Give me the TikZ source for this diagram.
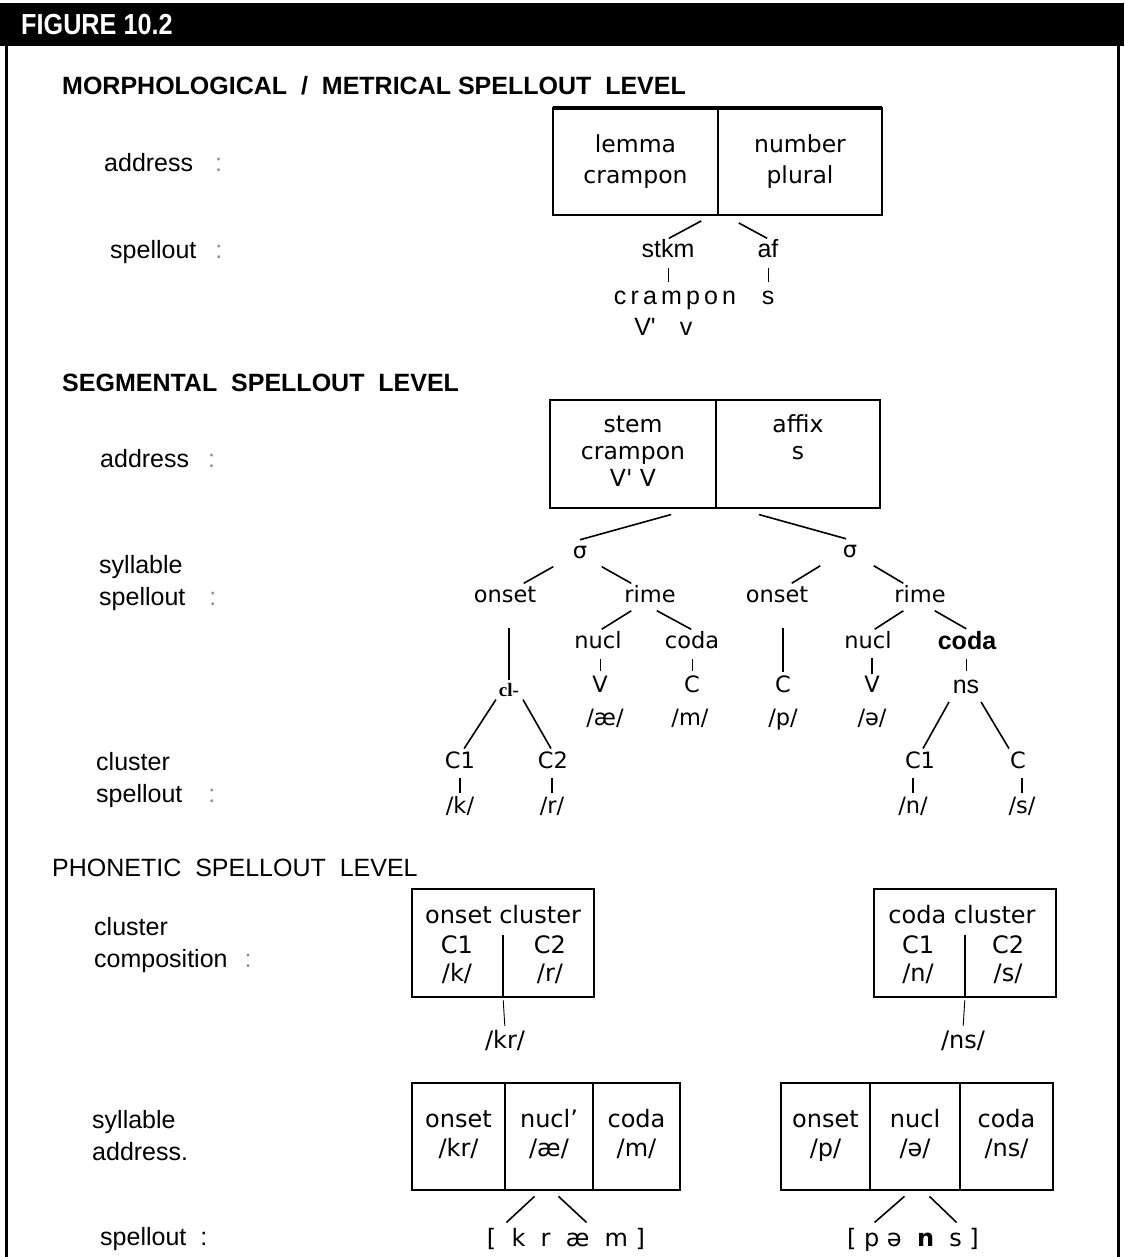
\documentclass[tikz,border=0pt]{standalone}
\usepackage{fontspec}
\setmainfont{Liberation Sans}
\newfontfamily\gothic{DejaVu Sans}
\newfontfamily\oldserif{Liberation Serif}
\usetikzlibrary{positioning,calc}

\newcommand{\lblfont}{\fontsize{25}{32}\selectfont}
\newcommand{\gfont}{\gothic\fontsize{22.5}{28}\selectfont}
\newcommand{\boxfont}{\gothic\fontsize{24}{29}\selectfont}
\newcommand{\colonmark}{{\color{black!45}:}}
\newcommand{\vq}{V\textquotesingle}

\tikzset{
  levelhead/.style={anchor=west, inner sep=0pt, font=\bfseries\fontsize{25}{30}\selectfont},
  lbl/.style={anchor=west, align=left, inner sep=0pt, font=\lblfont},
  word/.style={inner sep=2pt, text height=17pt, text depth=5pt, font=\lblfont},
  gword/.style={inner sep=2pt, text height=16pt, text depth=5pt, font=\gfont},
  bword/.style={inner sep=2pt, text height=17pt, text depth=5pt, font=\boxfont},
  cell/.style={draw, line width=2pt, outer sep=0pt, inner sep=0pt, minimum height=107pt, align=center, font=\boxfont},
  frame/.style={draw, line width=2pt, minimum height=108pt, outer sep=0pt},
  edge/.style={line width=1.6pt, shorten <=2pt, shorten >=2pt},
  tick/.style={line width=0.9pt, shorten <=3pt, shorten >=3pt},
}

\begin{document}
\begin{tikzpicture}[x=1pt, y=-1pt]
\useasboundingbox (0,0) rectangle (1124,1257);

% title bar and frame
\fill (0,3) rectangle (1124,46);
\node[anchor=west, text=white, inner sep=0pt, font=\bfseries\fontsize{29}{30}\selectfont] (figno) at (21,25) {\scalebox{0.87}[1]{FIGURE 10.2}};
\draw[line width=3pt] (6,46) -- (6,1257) (1118,46) -- (1118,1257);

% morphological / metrical level
\node[levelhead] (morph) at (62,86) {MORPHOLOGICAL\ \ /\ \ METRICAL SPELLOUT\ \ LEVEL};
\node[lbl] (maddr) at (104,163) {address\hspace{22pt}\colonmark};
\node[lbl] (mspell) at (110,252) {spellout\hspace{19pt}\colonmark};

\node[cell, minimum width=165pt, font=\gothic\fontsize{23.5}{31}\selectfont] (lemma) at (635.5,161.5) {lemma\strut\\crampon\strut};
\node[cell, minimum width=164pt, font=\gothic\fontsize{23.5}{31}\selectfont, right=0pt of lemma] (number) {number\strut\\plural\strut};
\draw[line width=3.5pt] (lemma.north west) -- (number.north east);

\node[word] (stkm) at (668,252) {stkm};
\node[word] (af) at (768,252) {af};
\node[word] (crampon) at (675,298) {c\,r\,a\,m\,p\,o\,n};
\node[word] (afs) at (768,298) {s};
\node[word] (vstress) at (645,329) {\vq};
\node[word] (vweak) at (686,329) {v};
\draw[edge, shorten >=1pt] ($(lemma.south east)+(-15,5)$) -- (stkm.north);
\draw[edge, shorten >=1pt] ($(number.south west)+(19,7)$) -- (af.north);
\draw[tick] (stkm.south) -- (stkm.south |- crampon.north);
\draw[tick] (af.south) -- (af.south |- afs.north);

% segmental level
\node[levelhead] (segm) at (62,383) {SEGMENTAL\ \ SPELLOUT\ \ LEVEL};
\node[lbl] (saddr) at (100,459) {address\hspace{19pt}\colonmark};
\node[lbl] (ssyl) at (99,583) {syllable\\spellout\hspace{24pt}\colonmark};
\node[lbl] (sclu) at (96,780) {cluster\\spellout\hspace{26pt}\colonmark};

\node[cell, minimum width=166pt, minimum height=108pt, font=\gothic\fontsize{23.5}{27}\selectfont] (stem) at (633,454) {stem\strut\\crampon\strut\\\vq\ V\strut};
\node[cell, minimum width=164pt, minimum height=108pt, font=\gothic\fontsize{23.5}{27}\selectfont, right=0pt of stem] (affix) {affix\strut\\s\strut\\\strut};

\node[gword] (sig1) at (580,553) {σ};
\node[gword] (sig2) at (850,552) {σ};
\node[gword] (on1) at (505,597) {onset};
\node[gword] (rime1) at (650,597) {rime};
\node[gword] (on2) at (777,597) {onset};
\node[gword] (rime2) at (920,597) {rime};
\node[gword] (nucl1) at (598,643) {nucl};
\node[gword] (coda1) at (692,643) {coda};
\node[gword] (nucl2) at (868,643) {nucl};
\node[word, font=\bfseries\lblfont] (coda2) at (967,643) {coda};
\node[inner sep=1pt, font=\oldserif\bfseries\fontsize{19}{20}\selectfont] (cl) at (509,690) {cl-};
\node[gword] (v1) at (600,687) {V};
\node[gword] (c1) at (692,687) {C};
\node[gword] (c2) at (783,687) {C};
\node[gword] (v2) at (872,687) {V};
\node[word] (ns) at (966,687) {ns};
\node[gword] (slae) at (605,720) {/æ/};
\node[gword] (slm) at (690,720) {/m/};
\node[gword] (slp) at (783,720) {/p/};
\node[gword] (slschwa) at (872,720) {/ə/};
\node[gword] (oc1) at (460,763) {C1};
\node[gword] (oc2) at (553,763) {C2};
\node[gword] (cc1) at (920,763) {C1};
\node[gword] (cc2) at (1018,763) {C};
\node[gword] (slk) at (460,808) {/k/};
\node[gword] (slr) at (552,808) {/r/};
\node[gword] (sln) at (913,808) {/n/};
\node[gword] (sls) at (1022,808) {/s/};

\draw[edge] ($(stem.south east)+(-43,6)$) -- ($(sig1.north)+(-2,0)$);
\draw[edge] ($(affix.south west)+(41,6)$) -- ($(sig2.north)+(-2,0)$);
% branches: parent/child/offset at parent/offset at child
\foreach \a/\b/\s/\e in {sig1/on1/-25/17, sig1/rime1/20/-17, rime1/nucl1/-17/2, rime1/coda1/5/1,
                         sig2/on2/-28/13, sig2/rime2/22/-15, rime2/nucl2/-15/5, rime2/coda2/13/1,
                         cl/oc1/-12/3, cl/oc2/13/-1, ns/cc1/-16/2, ns/cc2/14/-8}
  \draw[edge] ($(\a.south)+(\s,0)$) -- ($(\b.north)+(\e,0)$);
\foreach \a/\b in {nucl1/v1, coda1/c1, coda2/ns}
  \draw[tick] (\b.north |- \a.south) -- (\b.north);
\draw[edge, shorten <=18pt] (cl.north |- on1.south) -- (cl.north);
\draw[edge, shorten <=18pt] (c2.north |- on2.south) -- (c2.north);
\draw[line width=2.2pt, shorten <=2pt] (v2.north |- nucl2.south) -- (v2.north);
\foreach \a/\b in {oc1/slk, oc2/slr, cc1/sln, cc2/sls}
  \draw[edge, line width=1.2pt] (\b.north |- \a.south) -- (\b.north);

% phonetic level
\node[levelhead, font=\fontsize{25}{28}\selectfont] (phon) at (52,868) {PHONETIC\ \ SPELLOUT\ \ LEVEL};
\node[lbl] (pclu) at (94,945) {cluster\\composition\hspace{17pt}\colonmark};
\node[lbl] (psyl) at (92,1136) {syllable\\address.};
\node[lbl] (pspell) at (100,1239) {spellout\hspace{14pt}:};

\node[frame, minimum width=182pt] (onsetcl) at (503,943) {};
\node[bword] (octitle) at (503,917) {onset cluster};
\node[bword] (occ1) at (457,947) {C1};
\node[bword] (occ2) at (550,947) {C2};
\node[bword] (ock) at (457,975) {/k/};
\node[bword] (ocr) at (550,975) {/r/};
\draw[line width=1.2pt] (onsetcl.south) -- ++(0,-62);
\node[bword] (kr) at (505,1042) {/kr/};
\draw[tick] (onsetcl.south) -- (kr.north);

\node[frame, minimum width=182pt] (codacl) at (965,943) {};
\node[bword] (cctitle) at (962,917) {coda cluster};
\node[bword] (ccc1) at (918,947) {C1};
\node[bword] (ccc2) at (1008,947) {C2};
\node[bword] (ccn) at (918,975) {/n/};
\node[bword] (ccs) at (1008,975) {/s/};
\draw[line width=1.2pt] (codacl.south) -- ++(0,-62);
\node[bword] (nsph) at (963,1042) {/ns/};
\draw[tick] (codacl.south) -- (nsph.north);

\node[cell, minimum width=93pt] (sonL) at (458.5,1136.5) {onset\strut\\/kr/\strut};
\node[cell, minimum width=88pt, right=0pt of sonL] (snuL) {nucl’\strut\\/æ/\strut};
\node[cell, minimum width=87pt, right=0pt of snuL] (scoL) {coda\strut\\/m/\strut};
\node[cell, minimum width=89pt] (sonR) at (825.5,1136.5) {onset\strut\\/p/\strut};
\node[cell, minimum width=90pt, right=0pt of sonR] (snuR) {nucl\strut\\/ə/\strut};
\node[cell, minimum width=93pt, right=0pt of snuR] (scoR) {coda\strut\\/ns/\strut};

\node[bword] (krm) at (566,1240) {[\ \ k\ \ r\ \ æ\ \ m\ ]};
\node[bword] (pns) at (913,1240) {[\ p\ ə\ \ \textbf{n}\ \ s\ ]};
\draw[edge] ($(snuL.south)+(-13,5)$) -- ($(krm.north)+(-61,-3)$);
\draw[edge] ($(snuL.south)+(8,5)$) -- ($(krm.north)+(22,-3)$);
\draw[edge] ($(snuR.south)+(-9,5)$) -- ($(pns.north)+(-40,-3)$);
\draw[edge] ($(snuR.south)+(13,5)$) -- ($(pns.north)+(45,-3)$);
\end{tikzpicture}
\end{document}
